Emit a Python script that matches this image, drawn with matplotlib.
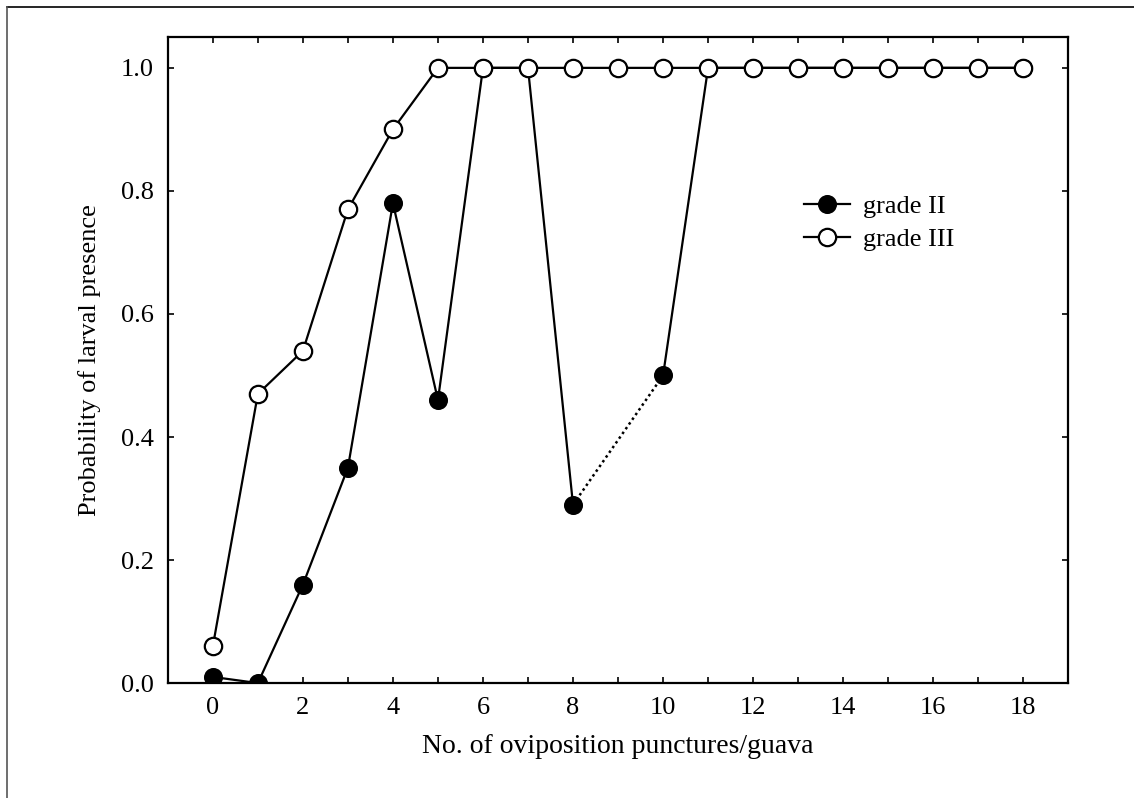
import numpy as np
import matplotlib
matplotlib.use("Agg")
import matplotlib.pyplot as plt
from matplotlib.lines import Line2D

plt.rcParams['font.family'] = ['Liberation Serif', 'DejaVu Serif']

# punctures per guava
x_vals = np.arange(0, 19)

# grade II (filled), no observation at 9 punctures
grade2 = [0.01, 0.0, 0.16, 0.35, 0.78, 0.46, 1.0, 1.0, 0.29, np.nan,
          0.50, 1.0, 1.0, 1.0, 1.0, 1.0, 1.0, 1.0, 1.0]
# grade III (open)
grade3 = [0.06, 0.47, 0.54, 0.77, 0.90, 1.0, 1.0, 1.0, 1.0, 1.0,
          1.0, 1.0, 1.0, 1.0, 1.0, 1.0, 1.0, 1.0, 1.0]

x_ticks = np.arange(0, 19)
x_ticklabels = [str(v) if v % 2 == 0 else "" for v in x_ticks]
y_ticks = [0.0, 0.2, 0.4, 0.6, 0.8, 1.0]

FS = 19
fig = plt.figure(figsize=(11.34, 7.98), dpi=100)
ax = fig.add_axes([0.148, 0.144, 0.794, 0.8095])

g2 = np.array(grade2, dtype=float)
# dotted bridge over the gap
ax.plot([8, 10], [g2[8], g2[10]], color="black", lw=1.8, ls=(0, (1.0, 1.3)), zorder=2)
ax.plot(x_vals, g2, color="black", lw=1.6, marker="o", ms=12.5,
        mfc="black", mec="black", mew=1.2, label="grade II", zorder=3)
ax.plot(x_vals, grade3, color="black", lw=1.6, marker="o", ms=12.5,
        mfc="white", mec="black", mew=1.6, label="grade III", zorder=4)

ax.set_xlim(-1, 19)
ax.set_ylim(0, 1.05)
ax.set_xticks(x_ticks)
ax.set_xticklabels(x_ticklabels)
ax.set_yticks(y_ticks)
ax.set_yticklabels([f"{v:.1f}" for v in y_ticks])
ax.tick_params(direction="in", length=4, width=1.2, top=True, right=True,
               labelsize=FS, pad=10)
for sp in ax.spines.values():
    sp.set_linewidth(1.6)

ax.set_xlabel("No. of oviposition punctures/guava", fontsize=20, labelpad=11)
ax.set_ylabel("Probability of larval presence", fontsize=FS, labelpad=14)

ax.legend(loc="upper left", bbox_to_anchor=(0.709, 0.756), bbox_transform=fig.transFigure,
          frameon=False, fontsize=FS, handlelength=1.75, handletextpad=0.5,
          labelspacing=0.35, borderpad=0, borderaxespad=0)

# figure border, top and left
fig.add_artist(Line2D([0.006, 1.0], [0.991, 0.991], transform=fig.transFigure,
                      color="black", lw=1.2))
fig.add_artist(Line2D([0.006, 0.006], [0.0, 0.991], transform=fig.transFigure,
                      color="#555555", lw=1.2))

fig.savefig("out.png", dpi=100)
